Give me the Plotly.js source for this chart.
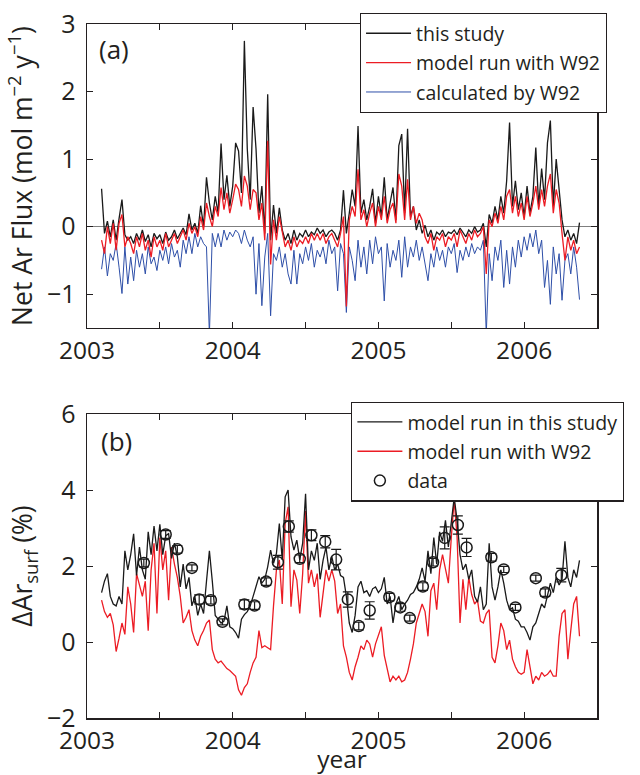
<!DOCTYPE html>
<html>
<head>
<meta charset="utf-8">
<script src="https://cdn.plot.ly/plotly-3.0.1.min.js"></script>
<style>html,body{margin:0;padding:0;background:#fff;}#chart{width:640px;height:775px;}</style>
</head>
<body>
<div id="chart"></div>
<script>
// ---- time grid (decimal year) ----
const years = [
2003.10,2003.12,2003.14,2003.16,2003.18,2003.20,2003.22,2003.24,2003.26,2003.28,
2003.30,2003.32,2003.34,2003.36,2003.38,2003.40,2003.42,2003.44,2003.46,2003.48,
2003.50,2003.52,2003.54,2003.56,2003.58,2003.60,2003.62,2003.64,2003.66,2003.68,
2003.70,2003.72,2003.74,2003.76,2003.78,2003.80,2003.82,2003.84,2003.86,2003.88,
2003.90,2003.92,2003.94,2003.96,2003.98,2004.00,2004.02,2004.04,2004.06,2004.08,
2004.10,2004.12,2004.14,2004.16,2004.18,2004.20,2004.22,2004.24,2004.26,2004.28,
2004.30,2004.32,2004.34,2004.36,2004.38,2004.40,2004.42,2004.44,2004.46,2004.48,
2004.50,2004.52,2004.54,2004.56,2004.58,2004.60,2004.62,2004.64,2004.66,2004.68,
2004.70,2004.72,2004.74,2004.76,2004.78,2004.80,2004.82,2004.84,2004.86,2004.88,
2004.90,2004.92,2004.94,2004.96,2004.98,2005.00,2005.02,2005.04,2005.06,2005.08,
2005.10,2005.12,2005.14,2005.16,2005.18,2005.20,2005.22,2005.24,2005.26,2005.28,
2005.30,2005.32,2005.34,2005.36,2005.38,2005.40,2005.42,2005.44,2005.46,2005.48,
2005.50,2005.52,2005.54,2005.56,2005.58,2005.60,2005.62,2005.64,2005.66,2005.68,
2005.70,2005.72,2005.74,2005.76,2005.78,2005.80,2005.82,2005.84,2005.86,2005.88,
2005.90,2005.92,2005.94,2005.96,2005.98,2006.00,2006.02,2006.04,2006.06,2006.08,
2006.10,2006.12,2006.14,2006.16,2006.18,2006.20,2006.22,2006.24,2006.26,2006.28,
2006.30,2006.32,2006.34,2006.36,2006.38];

// ---- panel (a): net Ar flux (mol m-2 y-1) ----
const fluxThisStudy = [
0.56,-0.1,0.08,-0.15,0.1,-0.2,0.12,0.40,-0.12,-0.2,
-0.15,-0.25,-0.1,-0.2,-0.05,-0.22,-0.12,-0.3,-0.1,-0.18,
-0.12,-0.25,-0.08,-0.2,-0.15,-0.05,-0.18,-0.1,-0.02,-0.12,
0.19,-0.05,0.05,-0.1,0.31,0.0,0.73,0.35,0.1,0.45,
0.2,1.23,0.4,0.76,0.3,0.6,1.24,1.12,0.5,2.75,
1.15,0.4,1.77,1.15,0.2,0.6,-0.1,1.96,-0.2,0.32,
-0.1,0.28,-0.05,-0.2,-0.1,-0.25,-0.05,-0.2,-0.1,-0.15,
-0.05,-0.15,-0.08,-0.12,-0.02,-0.1,-0.05,-0.15,-0.08,-0.05,
-0.1,-0.2,-0.05,0.54,-0.1,0.2,0.55,0.3,1.49,0.2,
0.4,0.1,0.3,0.56,0.05,0.45,0.15,0.73,0.1,0.35,
0.58,0.1,1.2,1.37,0.2,1.45,0.15,0.3,-0.05,0.1,
-0.1,0.02,-0.15,-0.05,-0.2,-0.08,-0.12,-0.05,-0.15,-0.08,
-0.1,-0.05,-0.12,-0.02,-0.08,-0.15,-0.05,-0.1,0.0,-0.08,
-0.05,0.05,-0.3,0.18,0.05,0.3,0.1,0.45,0.2,0.68,
1.54,0.3,0.68,0.25,0.5,0.15,0.6,0.2,0.45,1.17,
0.3,0.86,0.4,1.24,1.57,0.3,1.0,0.58,0.1,-0.15,
-0.05,-0.2,-0.1,-0.25,0.06];

const fluxModelW92 = [
-0.2,-0.4,0.0,-0.25,0.05,-0.35,0.05,0.18,-0.3,-0.15,
-0.25,-0.4,-0.15,-0.3,-0.1,-0.35,-0.2,-0.45,-0.15,-0.3,
-0.2,-0.35,-0.1,-0.3,-0.2,-0.1,-0.25,-0.15,-0.05,-0.2,
0.05,-0.1,0.0,-0.15,0.15,-0.05,0.35,0.15,0.0,0.3,
0.15,0.58,0.25,0.5,0.2,0.4,0.63,0.55,0.3,0.75,
0.6,0.25,0.55,0.5,0.1,0.35,-0.2,1.27,-0.56,0.1,
-0.2,0.15,-0.1,-0.3,-0.2,-0.35,-0.15,-0.3,-0.2,-0.25,
-0.15,-0.25,-0.1,-0.2,-0.1,-0.2,-0.1,-0.25,-0.15,-0.1,
-0.2,-0.3,-0.1,0.15,-1.18,0.1,0.3,0.15,0.85,0.1,
0.25,0.0,0.2,0.35,0.0,0.3,0.1,0.45,0.05,0.25,
0.35,0.05,0.78,0.6,0.1,0.7,0.1,0.3,0.05,0.2,
0.1,-0.15,-0.25,-0.1,-0.35,-0.15,-0.2,-0.1,-0.3,-0.15,
-0.2,-0.1,-0.3,-0.05,-0.15,-0.25,-0.1,-0.2,-0.05,-0.15,
-0.1,0.0,-0.7,0.1,0.0,0.2,0.05,0.3,0.1,0.45,
0.55,0.2,0.45,0.15,0.35,0.1,0.45,0.15,0.35,0.6,
0.25,0.55,0.3,0.6,0.78,0.2,0.55,0.35,-0.1,-0.5,
-0.15,-0.35,-0.2,-0.4,-0.3];

const fluxCalcW92 = [
-0.63,-0.3,-0.73,-0.4,-0.5,-0.25,-0.6,-0.99,-0.3,-0.85,
-0.45,-0.8,-0.35,-0.6,-0.4,-0.7,-0.3,-0.55,-0.45,-0.65,
-0.35,-0.5,-0.3,-0.55,-0.25,-0.45,-0.35,-0.6,-0.2,-0.4,
-0.15,-0.4,-0.1,-0.3,-0.15,-0.25,-0.3,-1.6,-0.1,-0.3,
-0.1,-0.3,-0.05,-0.2,-0.08,-0.15,-0.05,-0.1,-0.25,-0.05,
-0.2,-0.3,-0.15,-1.0,-0.25,-1.17,-0.45,-0.1,-1.32,-0.4,
-0.5,-0.3,-0.6,-0.4,-0.7,-0.85,-0.35,-0.85,-0.4,-0.55,
-0.3,-0.5,-0.25,-0.6,-0.35,-0.45,-0.3,-0.55,-0.2,-0.4,
-0.3,-0.95,-0.25,-0.4,-1.27,-0.3,-0.5,-0.8,-0.2,-0.6,
-0.3,-0.7,-0.2,-0.55,-0.15,-0.4,-0.3,-1.1,-0.25,-0.6,
-0.35,-0.5,-0.2,-0.75,-0.15,-0.6,-0.3,-0.45,-0.2,-0.5,
-0.3,-0.55,-0.8,-0.4,-0.6,-0.3,-0.5,-0.35,-0.6,-0.3,
-0.4,-0.25,-0.68,-0.35,-0.5,-0.3,-0.45,-0.25,-0.4,-0.3,
-0.35,-0.2,-1.6,-0.4,-0.8,-0.3,-0.5,-0.2,-0.9,-0.35,
-0.85,-0.3,-0.6,-0.2,-0.45,-0.15,-0.35,-0.1,-0.3,-0.05,
-0.4,-0.2,-0.9,-0.5,-1.15,-0.3,-0.7,-0.4,-1.09,-0.5,
-0.4,-0.7,-0.3,-0.6,-1.08];

// ---- panel (b): surface ΔAr (%) ----
const arThisStudy = [
1.3,1.6,1.8,1.2,1.0,0.95,1.2,1.0,2.4,1.9,
2.3,2.85,1.75,2.5,1.9,1.65,2.9,2.3,3.05,2.4,
3.1,2.3,2.8,2.85,2.2,2.6,2.25,1.45,2.05,1.4,
1.7,0.95,1.2,0.7,1.0,0.75,1.6,2.4,1.6,0.7,
0.6,0.5,0.55,0.95,0.4,0.35,0.25,0.1,0.6,0.72,
0.8,0.95,1.2,1.45,1.72,1.55,1.65,1.98,2.42,2.07,
2.33,3.12,2.16,3.82,4.0,2.77,2.42,2.68,2.16,2.6,
3.9,1.9,2.4,2.15,2.6,1.65,2.15,2.5,1.9,2.25,
1.9,2.05,1.75,1.7,1.2,0.5,0.25,0.7,1.45,1.6,
1.3,1.35,1.2,1.4,1.45,1.3,1.4,1.7,1.0,1.2,
0.5,1.0,1.2,0.85,1.0,1.1,1.25,1.3,1.45,1.65,
1.95,1.6,2.4,1.8,2.75,2.05,2.9,2.65,3.2,2.5,
3.1,3.8,3.2,2.3,1.9,2.05,1.65,1.9,1.2,1.05,
1.45,0.85,1.0,2.6,1.45,1.1,1.45,1.9,1.55,1.1,
0.85,0.9,0.6,0.55,0.4,0.4,0.25,0.05,0.4,0.5,
0.75,1.0,0.9,1.2,1.55,1.3,1.7,1.5,1.65,2.65,
1.7,1.45,1.9,1.7,2.15];

const arModelW92 = [
1.1,0.8,0.65,0.75,0.45,-0.25,0.1,0.5,0.2,1.45,
1.0,0.25,1.8,1.5,1.2,1.6,0.3,1.9,2.6,0.75,
2.75,1.9,2.4,1.1,2.5,2.05,1.7,1.2,0.5,0.65,
0.85,0.3,0.05,-0.1,0.15,0.3,0.5,0.58,-0.2,-0.45,
-0.55,-0.5,-0.6,-0.7,-0.75,-0.82,-0.9,-1.26,-1.4,-1.2,
-1.1,-0.8,-0.55,-0.4,0.3,-0.15,-0.1,-0.15,-0.2,0.95,
1.9,2.16,1.0,3.12,3.56,0.93,1.9,1.63,0.75,1.8,
3.45,1.55,1.9,1.45,1.8,0.65,1.35,1.9,1.6,1.9,
1.6,0.75,1.0,-0.1,-0.4,-0.8,-1.0,-0.65,-0.4,-0.1,
-0.2,0.05,-0.05,-0.4,-0.05,0.15,0.4,-0.35,-0.75,-1.05,
-0.9,-1.0,-0.9,-1.05,-1.0,-0.8,-0.45,-0.05,0.5,0.75,
1.0,0.8,0.15,1.35,1.55,0.85,1.9,2.3,1.95,1.55,
2.75,3.75,2.75,0.5,1.65,0.85,1.7,1.25,1.0,1.1,
0.55,0.5,0.75,0.85,-0.4,-0.55,-0.1,0.5,0.3,-0.2,
0.05,-0.45,-0.65,-0.8,-0.85,-0.8,-0.2,-0.6,-1.1,-0.9,
-1.0,-0.8,-0.9,-0.85,-0.75,-0.9,-0.9,0.15,0.75,0.85,
-0.45,0.3,1.0,1.2,0.15];

// measured data with error bars
const dataYears = [2003.39,2003.54,2003.62,2003.72,2003.77,2003.85,2003.93,2004.08,2004.15,2004.23,2004.31,2004.385,2004.46,2004.54,2004.635,2004.71,2004.79,2004.865,2004.94,2005.075,2005.15,2005.215,2005.305,2005.375,2005.455,2005.545,2005.605,2005.775,2005.86,2005.94,2006.08,2006.145,2006.255];
const dataVals = [2.08,2.83,2.44,1.95,1.12,1.1,0.53,0.99,0.96,1.59,2.1,3.04,2.19,2.81,2.64,2.17,1.12,0.42,0.83,1.18,0.91,0.63,1.46,2.1,2.74,3.08,2.49,2.23,1.91,0.91,1.68,1.3,1.76];
const dataErr = [0.1,0.1,0.1,0.08,0.12,0.1,0.08,0.12,0.1,0.1,0.18,0.15,0.1,0.14,0.16,0.27,0.2,0.1,0.23,0.1,0.1,0.08,0.1,0.1,0.29,0.24,0.24,0.1,0.08,0.08,0.08,0.1,0.18];

// ---- axis ticks ----
const xTickVals = [2003,2003.5,2004,2004.5,2005,2005.5,2006];
const xTickText = ['2003',' ','2004',' ','2005',' ','2006'];
const yTicksA = [-1,0,1,2,3];
const yTicksB = [-2,0,2,4,6];

const INK = '#231f20';
const BLACK = '#1a1a1a', RED = '#ec1c24', BLUE = '#2e4fa8';
const FONT = '"Open Sans", "Noto Sans", sans-serif';

const traces = [
  {x: years, y: fluxCalcW92, type:'scatter', mode:'lines', name:'calculated by W92',
   line:{color:BLUE, width:1}, xaxis:'x', yaxis:'y', legend:'legend', legendgroup:'a3', legendrank:3},
  {x: years, y: fluxThisStudy, type:'scatter', mode:'lines', name:'this study',
   line:{color:BLACK, width:1.3}, xaxis:'x', yaxis:'y', legend:'legend', legendgroup:'a1', legendrank:1},
  {x: years, y: fluxModelW92, type:'scatter', mode:'lines', name:'model run with W92',
   line:{color:RED, width:1.3}, xaxis:'x', yaxis:'y', legend:'legend', legendgroup:'a2', legendrank:2},

  {x: years, y: arModelW92, type:'scatter', mode:'lines', name:'model run with W92',
   line:{color:RED, width:1.3}, xaxis:'x2', yaxis:'y2', legend:'legend2', legendgroup:'b2', legendrank:2},
  {x: years, y: arThisStudy, type:'scatter', mode:'lines', name:'model run in this study',
   line:{color:BLACK, width:1.3}, xaxis:'x2', yaxis:'y2', legend:'legend2', legendgroup:'b1', legendrank:1},
  {x: dataYears, y: dataVals, type:'scatter', mode:'markers', name:'data',
   marker:{symbol:'circle-open', size:11, color:BLACK, line:{width:1.5, color:BLACK}},
   error_y:{type:'data', array:dataErr, visible:true, color:BLACK, thickness:1.2, width:5},
   xaxis:'x2', yaxis:'y2', legend:'legend2', legendgroup:'b3', legendrank:3}
];

const xCommon = {
  range:[2003,2006.5], tickvals:xTickVals, ticktext:xTickText,
  ticks:'inside', ticklen:6, tickwidth:1, tickcolor:INK,
  showline:true, linecolor:INK, linewidth:1.5, mirror:'ticks',
  showgrid:false, zeroline:false, tickfont:{size:24.5, color:INK}, ticklabelstandoff:0
};
const yCommon = {
  ticks:'inside', ticklen:6, tickwidth:1, tickcolor:INK,
  showline:true, linecolor:INK, linewidth:1.5, mirror:'ticks',
  showgrid:false, tickfont:{size:25, color:INK}, ticklabelstandoff:5
};

const legendCommon = {
  xanchor:'left', yanchor:'top', bgcolor:'white', bordercolor:INK, borderwidth:1.2,
  font:{size:19.5, color:INK, family:FONT}, tracegroupgap:1, itemwidth:45, traceorder:'grouped'
};

const layout = {
  width:640, height:775,
  margin:{l:87, r:43, t:24, b:57},
  paper_bgcolor:'white', plot_bgcolor:'white',
  font:{family:FONT, color:INK, size:25},
  showlegend:true,
  xaxis: Object.assign({}, xCommon, {anchor:'y', domain:[0,1]}),
  yaxis: Object.assign({}, yCommon, {anchor:'x', domain:[0.562,1], range:[-1.5,3], tickvals:yTicksA,
    zeroline:true, zerolinecolor:'#7f7f7f', zerolinewidth:1.5,
    title:{text:'Net Ar Flux (mol m<sup>−2</sup> y<sup>−1</sup>)', font:{size:26.5, color:INK}, standoff:6}}),
  xaxis2: Object.assign({}, xCommon, {anchor:'y2', domain:[0,1],
    title:{text:'year', font:{size:24.5, color:INK}, standoff:6}}),
  yaxis2: Object.assign({}, yCommon, {anchor:'x2', domain:[0,0.438], range:[-2,6], tickvals:yTicksB,
    zeroline:false,
    title:{text:'ΔAr<sub>surf</sub> (%)', font:{size:26.5, color:INK}, standoff:6}}),
  legend: Object.assign({}, legendCommon, {x:0.535, y:1.016}),
  legend2: Object.assign({}, legendCommon, {x:0.518, y:0.456}),
  annotations:[
    {text:'(a)', xref:'x domain', yref:'y domain', x:0.053, y:0.918, xanchor:'center', yanchor:'middle',
     showarrow:false, font:{size:26, color:INK}},
    {text:'(b)', xref:'x2 domain', yref:'y2 domain', x:0.057, y:0.911, xanchor:'center', yanchor:'middle',
     showarrow:false, font:{size:26, color:INK}}
  ]
};

Plotly.newPlot('chart', traces, layout, {displayModeBar:false, staticPlot:true});
</script>
</body>
</html>
